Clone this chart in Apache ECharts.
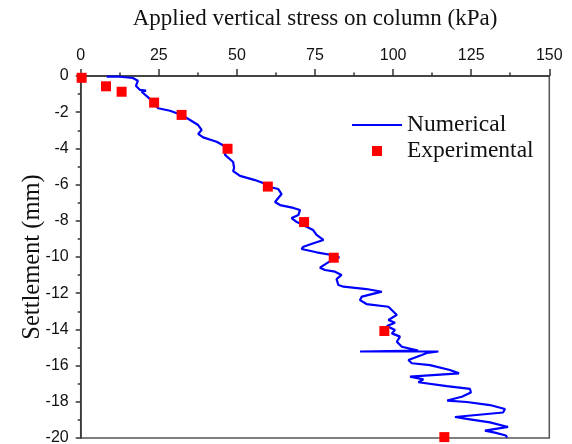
<!DOCTYPE html>
<html>
<head>
<meta charset="utf-8">
<script src="https://cdn.jsdelivr.net/npm/echarts@6/dist/echarts.min.js"></script>
<style>html,body{margin:0;padding:0;background:#fff}#c{width:572px;height:444px}</style>
</head>
<body>
<div id="c"></div>
<script>
const xAxisTitle = 'Applied vertical stress on column (kPa)';
const yAxisTitle = 'Settlement (mm)';
const seriesNames = ['Numerical', 'Experimental'];

// Numerical: [stress (kPa), settlement (mm)]
const numStress = [8.3,12.6,16.7,18.3,17.7,19.0,20.9,19.5,21.6,23.5,24.8,28.6,32.3,35.0,37.6,38.7,37.6,39.2,43.5,46.7,
  46.2,48.8,49.1,48.8,51.0,55.8,59.2,60.6,63.2,64.3,62.2,63.8,68.1,70.2,69.7,67.5,69.2,71.8,74.4,75.5,
  77.7,74.5,71.3,70.7,75.5,80.3,82.8,81.4,78.7,76.6,78.2,81.4,83.5,81.9,82.5,84.1,91.5,96.4,94.2,90.0,
  89.4,91.5,98.5,101.2,98.5,100.6,98.0,100.6,99.6,102.2,101.2,102.8,108.0,89.4,114.5,110.8,109.2,104.9,106.0,111.8,
  118.2,121.1,105.4,109.7,108.1,117.2,124.6,124.9,122.0,117.3,123.6,131.0,135.8,135.2,119.8,124.6,131.0,136.8,129.4,132.6,
  136.1,136.5];
const numSettle = [-0.03,-0.04,-0.11,-0.26,-0.55,-0.77,-0.81,-0.87,-1.18,-1.51,-1.78,-1.92,-2.15,-2.43,-2.71,-2.98,-3.20,-3.39,-3.63,-3.94,
  -4.36,-4.75,-5.08,-5.25,-5.52,-5.75,-5.97,-6.13,-6.24,-6.52,-6.96,-7.13,-7.29,-7.40,-7.68,-7.85,-8.07,-8.29,-8.51,-8.78,
  -9.06,-9.24,-9.43,-9.56,-9.74,-9.89,-10.02,-10.07,-10.35,-10.59,-10.72,-10.81,-10.99,-11.22,-11.55,-11.64,-11.77,-11.92,-12.01,-12.19,
  -12.38,-12.60,-12.75,-13.20,-13.48,-13.63,-13.81,-14.03,-14.22,-14.40,-14.68,-14.96,-15.17,-15.22,-15.22,-15.30,-15.41,-15.69,-15.87,-15.97,
  -16.24,-16.43,-16.61,-16.76,-16.92,-17.13,-17.29,-17.49,-17.72,-17.93,-18.01,-18.18,-18.40,-18.59,-18.84,-18.97,-19.14,-19.39,-19.59,-19.70,
  -19.86,-19.98];

// Experimental
const expStress = [0.3, 8.1, 13.1, 23.5, 32.3, 47.0, 59.9, 71.5, 81.0, 97.2, 116.4];
const expSettle = [-0.1, -0.57, -0.87, -1.47, -2.15, -4.02, -6.11, -8.07, -10.04, -14.09, -19.95];

const xTicks = {min: 0, max: 150, interval: 25};
const yTicks = {min: -20, max: 0, interval: 2};

const numData = numStress.map((x, i) => [x, numSettle[i]]);
const expData = expStress.map((x, i) => [x, expSettle[i]]);

const chart = echarts.init(document.getElementById('c'), null, {renderer: 'canvas'});
const serif = 'Liberation Serif, Times New Roman, serif';
const sans = 'Liberation Sans, Arial, sans-serif';
chart.setOption({
  animation: false,
  backgroundColor: '#fff',
  grid: {left: 80.7, right: 22.7, top: 76, bottom: 6, show: true, borderColor: '#555', borderWidth: 1.5,
         containLabel: false, outerBoundsMode: 'none'},
  legend: {
    orient: 'vertical', left: 352, top: 113, padding: 0, itemWidth: 50, itemHeight: 10, itemGap: 2,
    textStyle: {fontFamily: serif, fontSize: 23.5, color: '#111', lineHeight: 24},
    data: [
      {name: seriesNames[0], icon: 'path://M0,0L50,0L50,2.2L0,2.2Z'},
      {name: seriesNames[1], icon: 'path://M0,0L10,0L10,10L0,10Z'}
    ]
  },
  xAxis: {
    type: 'value', position: 'top', min: xTicks.min, max: xTicks.max, interval: xTicks.interval,
    name: xAxisTitle, nameLocation: 'middle', nameGap: 46, nameMoveOverlap: false,
    nameTextStyle: {fontFamily: serif, fontSize: 23, color: '#111'},
    axisLine: {show: true, lineStyle: {color: '#333', width: 1.5}},
    axisTick: {show: true, inside: false, length: 7, lineStyle: {color: '#333', width: 1.5}},
    minorTick: {show: true, splitNumber: 2, length: 3.5, lineStyle: {color: '#333', width: 1.5}},
    axisLabel: {fontFamily: sans, fontSize: 16, color: '#111', margin: 12},
    splitLine: {show: false}
  },
  yAxis: {
    type: 'value', min: yTicks.min, max: yTicks.max, interval: yTicks.interval,
    name: yAxisTitle, nameLocation: 'middle', nameGap: 36, nameRotate: 90, nameMoveOverlap: false,
    nameTextStyle: {fontFamily: serif, fontSize: 24.5, color: '#111'},
    axisLine: {show: true, lineStyle: {color: '#333', width: 1.5}},
    axisTick: {show: true, inside: false, length: 5, lineStyle: {color: '#333', width: 1.5}},
    minorTick: {show: true, splitNumber: 2, length: 3, lineStyle: {color: '#333', width: 1.5}},
    axisLabel: {fontFamily: sans, fontSize: 16, color: '#111', margin: 12},
    splitLine: {show: false}
  },
  series: [
    {
      name: seriesNames[0], type: 'line', data: numData, showSymbol: false, symbol: 'none',
      lineStyle: {color: '#0000ff', width: 2.2}, itemStyle: {color: '#0000ff'}, z: 3
    },
    {
      name: seriesNames[1], type: 'scatter', data: expData, symbol: 'rect', symbolSize: 10,
      itemStyle: {color: '#ff0000', opacity: 1}, z: 4
    }
  ]
});
</script>
</body>
</html>
